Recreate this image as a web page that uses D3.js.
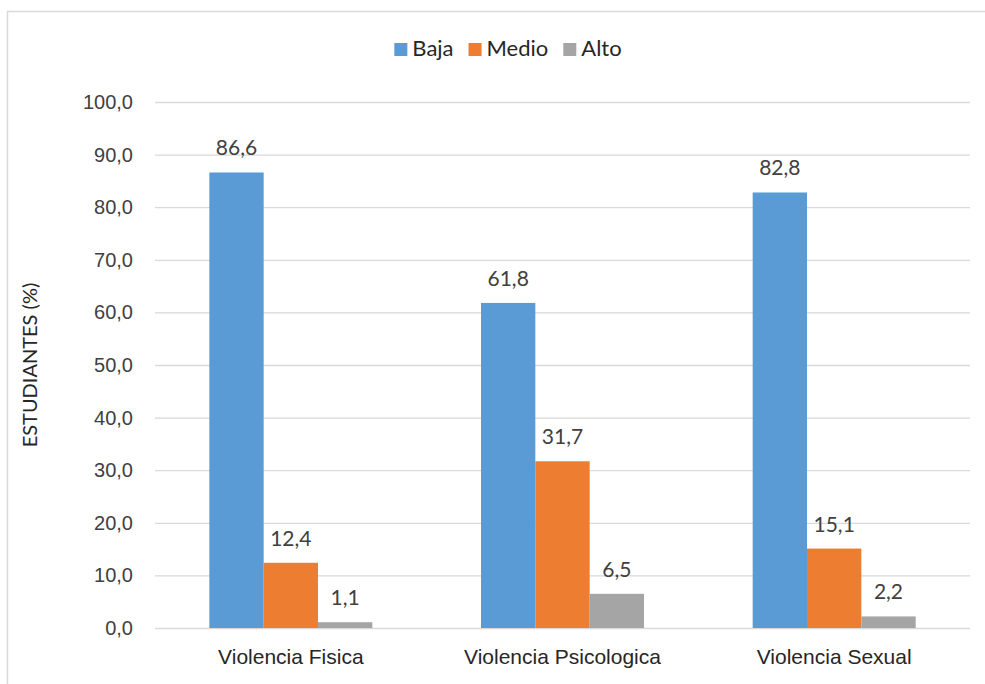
<!DOCTYPE html>
<html>
<head>
<meta charset="utf-8">
<script src="https://cdn.jsdelivr.net/npm/d3@7"></script>
<style>
	body { margin: 0; background: #fff; }
	svg { display: block; font-family: Lato, 'Open Sans', sans-serif; }
</style>
</head>
<body>
<div id="chart"></div>
<script>
// data
const categories = ['Violencia Fisica', 'Violencia Psicologica', 'Violencia Sexual'];
const seriesNames = ['Baja', 'Medio', 'Alto'];
const baja = [86.6, 61.8, 82.8];
const medio = [12.4, 31.7, 15.1];
const alto = [1.1, 6.5, 2.2];
const yTicks = [0, 10, 20, 30, 40, 50, 60, 70, 80, 90, 100];

const colors = ['#5B9BD5', '#ED7D31', '#A5A5A5'];
const seriesValues = [baja, medio, alto];

const W = 985;
const H = 684;
const margin = { top: 102, right: 15, bottom: 56, left: 155 };
const fmt = v => v.toFixed(1).replace('.', ',');

const $svg = d3.select('#chart').append('svg')
	.attr('width', W)
	.attr('height', H);

// chart border
$svg.append('rect')
	.attr('x', 7.5)
	.attr('y', 11.5)
	.attr('width', 1000)
	.attr('height', 700)
	.attr('fill', 'none')
	.attr('stroke', '#d9d9d9')
	.attr('stroke-width', 1.5);

const x0 = d3.scaleBand()
	.domain(categories)
	.range([margin.left, W - margin.right])
	.paddingInner(0.4)
	.paddingOuter(0.2);

const x1 = d3.scaleBand()
	.domain(seriesNames)
	.range([0, x0.bandwidth()]);

const y = d3.scaleLinear()
	.domain([0, 100])
	.range([H - margin.bottom, margin.top]);

// gridlines + y labels
const yAxis = d3.axisLeft(y)
	.tickValues(yTicks)
	.tickSize(-(W - margin.left - margin.right))
	.tickPadding(22)
	.tickFormat(fmt);

const $yAxis = $svg.append('g')
	.attr('class', 'y-axis')
	.attr('transform', `translate(${margin.left},0)`)
	.call(yAxis);

$yAxis.select('.domain').remove();
$yAxis.selectAll('line').attr('stroke', '#d9d9d9').attr('stroke-width', 1.3);
$yAxis.selectAll('text')
	.attr('fill', '#404040')
	.style('font-size', '20px');

// x labels
const xAxis = d3.axisBottom(x0).tickSize(0).tickPadding(21);
const $xAxis = $svg.append('g')
	.attr('transform', `translate(0,${H - margin.bottom})`)
	.call(xAxis);
$xAxis.select('.domain').remove();
$xAxis.selectAll('text')
	.attr('fill', '#262626')
	.style('font-size', '21px');

// axis title
$svg.append('text')
	.attr('transform', `translate(37,${(y(0) + y(100)) / 2}) rotate(-90)`)
	.attr('text-anchor', 'middle')
	.attr('fill', '#262626')
	.style('font-size', '20px')
	.text('ESTUDIANTES (%)');

// bars
const rows = categories.map((c, i) => ({
	cat: c,
	vals: seriesNames.map((s, j) => ({ s, j, v: seriesValues[j][i] }))
}));

const $groups = $svg.append('g').attr('class', 'g-bars')
	.selectAll('g')
	.data(rows)
	.join('g')
	.attr('transform', d => `translate(${x0(d.cat)},0)`);

$groups.selectAll('rect')
	.data(d => d.vals)
	.join('rect')
	.attr('x', d => x1(d.s))
	.attr('y', d => y(d.v))
	.attr('width', x1.bandwidth())
	.attr('height', d => y(0) - y(d.v))
	.attr('fill', d => colors[d.j]);

$groups.selectAll('text.value')
	.data(d => d.vals)
	.join('text')
	.attr('class', 'value')
	.attr('x', d => x1(d.s) + x1.bandwidth() / 2)
	.attr('y', d => y(d.v) - 17)
	.attr('text-anchor', 'middle')
	.attr('fill', '#404040')
	.style('font-size', '21px')
	.text(d => fmt(d.v));

// legend
const $legend = $svg.append('g').attr('class', 'legend');
const legendItems = $legend.selectAll('g')
	.data(seriesNames)
	.join('g');

legendItems.append('rect')
	.attr('width', 13)
	.attr('height', 13)
	.attr('y', -13)
	.attr('fill', (d, i) => colors[i]);

legendItems.append('text')
	.attr('x', 18)
	.attr('fill', '#262626')
	.style('font-size', '22px')
	.text(d => d);

let lx = 0;
legendItems.each(function () {
	const wText = this.querySelector('text').getComputedTextLength();
	d3.select(this).attr('transform', `translate(${lx},56)`);
	lx += 18 + wText + 15;
});
const legendWidth = lx - 15;
$legend.attr('transform', `translate(${508 - legendWidth / 2},0)`);
</script>
</body>
</html>
